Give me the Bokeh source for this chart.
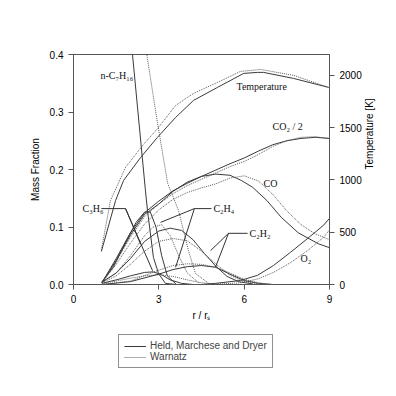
from bokeh.plotting import figure
from bokeh.layouts import column
from bokeh.models import (Range1d, LinearAxis, FixedTicker, PrintfTickFormatter,
                          Legend, LegendItem, ColumnDataSource)
from bokeh.core.properties import value
from bokeh.embed import file_html
from bokeh.resources import INLINE
import math

# ---------------- data ----------------
# Temperature [K]
temp_x_hmd = [0.98, 1.48, 1.76, 2.36, 2.95, 3.59, 4.22, 5.06, 5.98, 6.47, 6.68, 7.74, 8.97]
temp_hmd = [316, 804, 995, 1215, 1407, 1598, 1761, 1885, 2019, 2029, 2029, 1971, 1885]
temp_x_war = [0.98, 1.3, 1.83, 2.43, 2.99, 3.59, 4.22, 5.06, 5.87, 6.58, 7.74, 8.97]
temp_war = [330, 804, 1120, 1330, 1502, 1713, 1828, 1933, 2038, 2057, 2000, 1885]

# n-C7H16 mass fraction
fuel_x_hmd = [1.0, 2.07, 2.53, 2.6, 2.81, 2.99, 3.23, 3.6]
fuel_hmd = [0.95, 0.402, 0.163, 0.129, 0.047, 0.019, 0.002, 0.0]
fuel_x_war = [1.0, 2.57, 2.95, 3.31, 3.69, 4.04, 4.29, 4.75, 5.2]
fuel_war = [0.88, 0.402, 0.282, 0.176, 0.129, 0.059, 0.019, 0.002, 0.0]

# CO2 / 2
grid_x = [1.0, 1.5, 2.0, 2.5, 3.0, 3.5, 4.0, 4.5, 5.0, 5.5, 6.0, 6.5, 7.0, 7.5, 8.0, 8.5, 9.0]
co2_hmd = [0.003, 0.045, 0.09, 0.125, 0.145, 0.163, 0.176, 0.188, 0.199, 0.21, 0.22,
           0.232, 0.243, 0.25, 0.254, 0.256, 0.254]
co2_war = [0.003, 0.04, 0.082, 0.118, 0.14, 0.158, 0.172, 0.183, 0.194, 0.205, 0.214,
           0.226, 0.24, 0.25, 0.256, 0.257, 0.254]

# CO
co_x_hmd = [1.0, 1.5, 2.0, 2.5, 3.0, 3.5, 4.0, 4.5, 5.0, 5.5, 5.9, 6.3, 6.8, 7.3, 7.9, 8.6, 9.0]
co_hmd = [0.003, 0.042, 0.086, 0.122, 0.14, 0.162, 0.178, 0.188, 0.192, 0.19, 0.181,
          0.169, 0.146, 0.117, 0.090, 0.071, 0.064]
co_war = [0.003, 0.035, 0.072, 0.105, 0.13, 0.148, 0.16, 0.168, 0.175, 0.185, 0.189,
          0.18, 0.157, 0.128, 0.104, 0.088, 0.078]

# O2
o2_x_hmd = [1.0, 3.0, 4.5, 5.0, 5.87, 6.47, 7.03, 7.63, 8.23, 8.79, 9.0]
o2_hmd = [0.0, 0.0, 0.0, 0.002, 0.007, 0.016, 0.033, 0.056, 0.080, 0.103, 0.115]
o2_x_war = [1.0, 3.0, 4.5, 5.2, 5.87, 6.5, 7.03, 7.63, 8.23, 8.79, 9.0]
o2_war = [0.0, 0.0, 0.0, 0.001, 0.003, 0.010, 0.021, 0.038, 0.059, 0.082, 0.095]

# C3H6
c3h6_x_hmd = [1.0, 1.4, 1.8, 2.2, 2.5, 2.7, 2.9, 3.1, 3.3, 3.6]
c3h6_hmd = [0.005, 0.03, 0.07, 0.108, 0.126, 0.126, 0.1, 0.05, 0.015, 0.001]
c3h6_x_war = [1.0, 1.5, 2.0, 2.5, 2.8, 3.1, 3.4, 3.7, 4.0, 4.4]
c3h6_war = [0.004, 0.02, 0.05, 0.085, 0.1, 0.104, 0.085, 0.05, 0.02, 0.003]

# minor intermediate (small early peak)
minor_x_hmd = [1.0, 1.5, 2.0, 2.5, 2.8, 3.1, 3.4, 3.8, 4.2]
minor_hmd = [0.002, 0.008, 0.015, 0.021, 0.022, 0.017, 0.008, 0.002, 0.0]
minor_x_war = [1.0, 1.5, 2.0, 2.5, 3.0, 3.5, 4.0, 4.5, 5.0]
minor_war = [0.002, 0.006, 0.011, 0.015, 0.017, 0.014, 0.008, 0.003, 0.0]

# C2H4
c2h4_x_hmd = [1.0, 1.5, 2.0, 2.5, 3.0, 3.4, 3.8, 4.2, 4.6, 5.0, 5.4, 5.8, 6.3]
c2h4_hmd = [0.004, 0.02, 0.045, 0.075, 0.093, 0.098, 0.094, 0.078, 0.054, 0.032, 0.014, 0.005, 0.001]
c2h4_x_war = [1.0, 1.5, 2.0, 2.5, 3.0, 3.5, 4.0, 4.5, 5.0, 5.5, 6.0, 6.5]
c2h4_war = [0.003, 0.015, 0.035, 0.058, 0.075, 0.08, 0.076, 0.058, 0.036, 0.016, 0.005, 0.001]

# C2H2
c2h2_x = [1.0, 2.0, 3.0, 3.5, 4.0, 4.5, 5.0, 5.5, 6.0, 6.5, 7.0]
c2h2_hmd = [0.0, 0.005, 0.018, 0.026, 0.031, 0.033, 0.030, 0.018, 0.007, 0.002, 0.0]
c2h2_war = [0.0, 0.006, 0.025, 0.033, 0.036, 0.035, 0.030, 0.020, 0.009, 0.003, 0.0]

# species labels (annotation anchor positions in data units)
label_text = ["n-C\u2087H\u2081\u2086", "Temperature", "CO\u2082 / 2", "CO",
              "C\u2083H\u2086", "C\u2082H\u2084", "C\u2082H\u2082", "O\u2082"]
label_x = [0.95, 5.73, 7.0, 6.68, 0.32, 4.92, 6.19, 7.98]
label_y = [0.363, 0.344, 0.275, 0.176, 0.132, 0.132, 0.089, 0.045]

# leader lines for labels
leader_xs = [[0.98, 1.83], [1.83, 2.36], [1.83, 2.78],
             [4.25, 4.85], [4.25, 3.06], [4.25, 3.59],
             [5.45, 6.12], [5.45, 4.82], [5.45, 4.99]]
leader_ys = [[0.132, 0.132], [0.132, 0.070], [0.132, 0.024],
             [0.132, 0.132], [0.132, 0.108], [0.132, 0.030],
             [0.089, 0.089], [0.089, 0.059], [0.089, 0.030]]

series_names = ["Held, Marchese and Dryer", "Warnatz"]

x_ticks = [0, 3, 6, 9]
y_ticks = [0.0, 0.1, 0.2, 0.3, 0.4]
t_ticks = [0, 500, 1000, 1500, 2000]

# ---------------- figure ----------------
SANS = "Liberation Sans"
SERIF = "Liberation Serif"
AX = "#555555"
SOLID = "#3a3a3a"
DOT = "#5a5a5a"
DASH = "1 1"

p = figure(width=384, height=326, output_backend="svg", toolbar_location=None,
           x_range=Range1d(0, 9), y_range=Range1d(0, 0.4),
           min_border_left=73, min_border_right=55, min_border_top=54,
           min_border_bottom=42)
p.extra_y_ranges = {"temp": Range1d(0, 2200)}
p.xgrid.grid_line_color = None
p.ygrid.grid_line_color = None
p.outline_line_color = AX
p.background_fill_color = "white"
p.border_fill_color = "white"


def style_axis(ax):
    ax.axis_line_color = AX
    ax.major_tick_line_color = AX
    ax.minor_tick_line_color = None
    ax.major_tick_in = 0
    ax.major_tick_out = 5
    ax.major_label_text_font = SANS
    ax.major_label_text_font_size = "10px"
    ax.major_label_text_color = "black"
    ax.axis_label_text_font = SANS
    ax.axis_label_text_font_size = "10px"
    ax.axis_label_text_font_style = "normal"
    ax.axis_label_text_color = "black"
    ax.major_label_standoff = 5
    ax.axis_label_standoff = 6


p.xaxis.ticker = FixedTicker(ticks=x_ticks)
p.xaxis.axis_label = "r / r\u209b"
p.yaxis.ticker = FixedTicker(ticks=y_ticks)
p.yaxis.formatter = PrintfTickFormatter(format="%.1f")
p.yaxis.axis_label = "Mass Fraction"
style_axis(p.xaxis[0])
style_axis(p.yaxis[0])
p.xaxis.axis_label_standoff = 4

right = LinearAxis(y_range_name="temp", ticker=FixedTicker(ticks=t_ticks),
                   axis_label="Temperature [K]")
style_axis(right)
right.axis_label_standoff = 5
right.axis_label_orientation = math.pi / 2
p.add_layout(right, "right")

# ---------------- curves ----------------
def pair(xs_h, ys_h, xs_w, ys_w, rng="default"):
    r1 = p.line(xs_h, ys_h, line_color=SOLID, line_width=1, y_range_name=rng)
    r2 = p.line(xs_w, ys_w, line_color=DOT, line_width=1, line_dash=DASH, y_range_name=rng)
    return r1, r2


pair(temp_x_hmd, temp_hmd, temp_x_war, temp_war, "temp")
pair(fuel_x_hmd, fuel_hmd, fuel_x_war, fuel_war)
pair(grid_x, co2_hmd, grid_x, co2_war)
pair(co_x_hmd, co_hmd, grid_x, co_war)
pair(o2_x_hmd, o2_hmd, o2_x_war, o2_war)
pair(c3h6_x_hmd, c3h6_hmd, c3h6_x_war, c3h6_war)
pair(minor_x_hmd, minor_hmd, minor_x_war, minor_war)
pair(c2h4_x_hmd, c2h4_hmd, c2h4_x_war, c2h4_war)
pair(c2h2_x, c2h2_hmd, c2h2_x, c2h2_war)

# leaders and labels
p.multi_line(leader_xs, leader_ys, line_color="#333333", line_width=1)
lab_src = ColumnDataSource(dict(x=label_x, y=label_y, text=label_text))
p.text("x", "y", text="text", source=lab_src, text_font=value(SERIF),
       text_font_size="10px", text_color="#111111", text_align="left",
       text_baseline="middle")

# ---------------- legend strip below the chart ----------------
lg = figure(width=384, height=50, output_backend="svg", toolbar_location=None,
            x_range=Range1d(0, 1), y_range=Range1d(0, 1),
            x_axis_type=None, y_axis_type=None,
            min_border_left=0, min_border_right=0, min_border_top=0, min_border_bottom=0)
lg.xgrid.grid_line_color = None
lg.ygrid.grid_line_color = None
lg.outline_line_color = None
# legend-key renderers: the temperature series again, on ranges that keep them out of view
lg.extra_x_ranges = {"hide": Range1d(100, 101)}
ls = lg.line(temp_x_hmd, temp_hmd, line_color=SOLID, line_width=1, x_range_name="hide")
ld = lg.line(temp_x_war, temp_war, line_color=DOT, line_width=1, line_dash=DASH,
             x_range_name="hide")
legend = Legend(items=[LegendItem(label=series_names[0], renderers=[ls]),
                       LegendItem(label=series_names[1], renderers=[ld])],
                location=(45, 8), orientation="vertical")
legend.border_line_color = "#222222"
legend.border_line_width = 1
legend.label_text_font = SANS
legend.label_text_font_size = "10px"
legend.glyph_width = 22
legend.glyph_height = 10
legend.label_height = 10
legend.label_standoff = 4
legend.spacing = 0
legend.padding = 5
legend.margin = 0
lg.add_layout(legend, "center")

layout = column(p, lg, spacing=0)
open("out.html", "w").write(file_html(layout, INLINE))
